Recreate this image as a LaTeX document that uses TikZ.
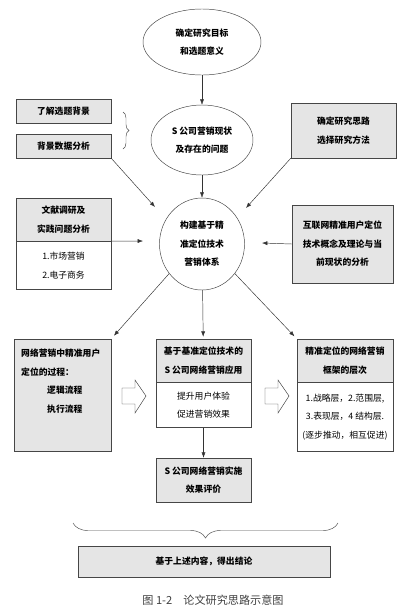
\documentclass[tikz,border=0pt]{standalone}
\usepackage{fontspec}
\setmainfont{Noto Sans CJK SC}
\usetikzlibrary{positioning,shapes.geometric,arrows.meta,decorations.pathreplacing}
\definecolor{boxgray}{RGB}{229,229,229}
\definecolor{linegray}{RGB}{70,70,70}
\newcommand{\hd}{\fontsize{7.5pt}{15.8pt}\selectfont\bfseries}
\newcommand{\bd}{\fontsize{7.5pt}{15.8pt}\selectfont}
\begin{document}
\begin{tikzpicture}[x=0.3mm,y=-0.3mm,
    box/.style={draw=linegray, fill=boxgray, font=\hd, align=center, inner sep=0pt},
    plain/.style={draw=linegray, fill=white, font=\bd, align=center, inner sep=0pt},
    oval/.style={ellipse, draw=linegray, fill=white, font=\hd, align=center, inner sep=0pt},
    arr/.style={draw=black!80, -{Latex[length=1.6mm,width=1.2mm]}},
    bracket/.style={draw=black!70, decorate}]
\useasboundingbox (0,0) rectangle (410,611);

\node[oval, minimum width=35.4mm, minimum height=19.8mm] (goal) at (202,42) {确定研究目标\\和选题意义};
\node[oval, minimum width=30.6mm, minimum height=21mm] (status) at (202,140) {S 公司营销现状\\及存在的问题};
\node[box, minimum width=28.5mm, minimum height=7.2mm] (bg1) at (63.5,111) {了解选题背景};
\node[box, minimum width=28.5mm, minimum height=7.2mm] (bg2) at (63.5,146) {背景数据分析};
\node[box, minimum width=31.5mm, minimum height=16.5mm] (method) at (343.5,130.5) {确定研究思路\\选择研究方法};
\node[oval, minimum width=25.5mm, minimum height=27.6mm] (core) at (202,244) {构建基于精\\准定位技术\\营销体系};

\node[box, minimum width=28.5mm, minimum height=12.9mm] (littop) at (63.5,219.5) {文献调研及\\实践问题分析};
\node[plain, minimum width=28.5mm, minimum height=14.4mm, below=0pt of littop] (litbot) {1.市场营销\\2.电子商务};
\node[box, minimum width=30.3mm, minimum height=23.4mm] (theory) at (342.5,244) {互联网精准用户定位\\技术概念及理论与当\\前现状的分析};

\node[box, minimum width=29.1mm, minimum height=33.6mm] (proc) at (62.5,395) {};
\node[font=\hd, align=left, anchor=north west, inner sep=0pt] (proctext) at (21,349)
  {网络营销中精准用户\\定位的过程：\\\hspace{7.8mm}逻辑流程\\\hspace{7.8mm}执行流程};
\node[box, minimum width=28.5mm, minimum height=12.9mm] (apptop) at (203.5,360.5) {基于基准定位技术的\\S 公司网络营销应用};
\node[plain, minimum width=28.5mm, minimum height=13.5mm, below=0pt of apptop] (appbot) {提升用户体验\\促进营销效果};
\node[box, minimum width=28.8mm, minimum height=12.9mm] (frametop) at (345,360.5) {精准定位的网络营销\\框架的层次};
\node[plain, minimum width=28.8mm, minimum height=20.7mm, below=0pt of frametop] (framebot)
  {1.战略层，2.范围层,\\3.表现层，4 结构层.\\(逐步推动，相互促进)};
\node[box, minimum width=28.5mm, minimum height=13.2mm] (eval) at (203.5,480) {S 公司网络营销实施\\效果评价};
\node[box, minimum width=75.6mm, minimum height=9.3mm] (concl) at (204,561.5) {基于上述内容，得出结论};
\node[font=\fontsize{9.5pt}{11pt}\selectfont, text=black!75] (caption) at (213,600) {图 1-2\quad 论文研究思路示意图};

\coordinate (tipa) at (155,207);
\coordinate (tipb) at (246,208);
\coordinate (tipc) at (143,241);
\coordinate (tipd) at (262,243);

\draw[arr] (goal) -- (status);
\draw[arr] (status) -- (core);
\draw[arr] (bg2.south east) -- (tipa);
\draw[arr] (method.south west) -- (tipb);
\draw[arr] (litbot.north east) -- (tipc);
\draw[arr] (theory.west) -- (tipd);
\draw[arr, shorten >=1.2mm] (core.222) -- (proc.north east);
\draw[arr, shorten >=0.6mm] (core) -- (apptop);
\draw[arr, shorten >=1mm] (core.318) -- (frametop.north west);
\draw[arr] (appbot) -- (eval);

\draw[black!75, fill=white] (122,388) -- (135,388) -- (135,380) -- (146,396) -- (135,413) -- (135,404) -- (122,404) -- cycle;
\draw[black!75, fill=white] (265,388) -- (278,388) -- (278,380) -- (289,396) -- (278,413) -- (278,404) -- (265,404) -- cycle;

\draw[bracket, decoration={brace, amplitude=1.8mm}] (123,112) -- (123,149);
\draw[bracket, decoration={brace, amplitude=4.5mm}] (338,523) -- (73,523);
\end{tikzpicture}
\end{document}
